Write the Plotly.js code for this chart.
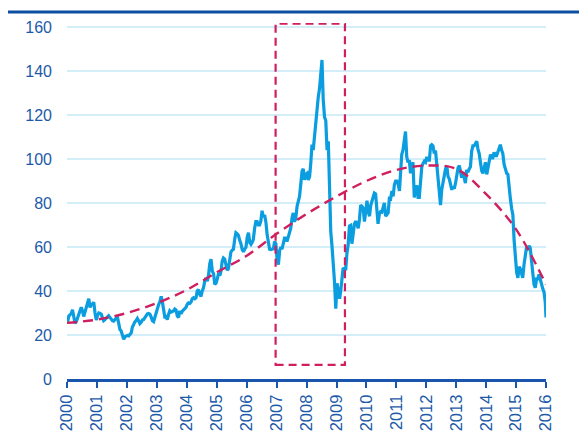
<!DOCTYPE html>
<html>
<head>
<meta charset="utf-8">
<script src="https://cdn.plot.ly/plotly-3.0.1.min.js"></script>
<style>html,body{margin:0;padding:0;background:#fff;}#chart{width:579px;height:445px;}</style>
</head>
<body>
<div id="chart"></div>
<script>
// Crude oil (WTI) price, two readings per month (1st and 2nd half), Jan 2000 - Dec 2015
var startYear = 2000;
var oilPrice = [
  26.0,28.6, 29.2,29.8, 31.5,28.5, 25.3,26.0, 27.8,30.0, 31.0,32.6, 31.0,28.4, 30.5,32.2, 33.8,36.5, 32.5,33.8, 34.2,34.8, 30.0,26.8, // 2000
  29.0,30.0, 29.8,29.4, 27.8,26.5, 27.0,27.8, 28.4,28.8, 28.0,27.0, 26.5,26.3, 27.2,27.6, 28.0,24.5, 22.5,21.8, 19.5,18.0, 19.2,19.5, // 2001
  19.8,19.6, 20.5,21.0, 23.5,25.3, 26.0,26.6, 27.5,26.5, 25.2,25.8, 26.8,27.0, 27.8,29.0, 29.6,29.8, 29.5,28.2, 26.5,26.1, 28.0,30.8, // 2002
  32.0,33.8, 35.2,37.5, 35.5,30.5, 28.2,28.4, 27.0,29.2, 31.0,30.4, 30.7,30.9, 31.8,31.4, 28.6,28.0, 31.0,29.6, 30.8,31.4, 31.6,32.6, // 2003
  34.0,34.6, 34.4,35.0, 36.5,36.9, 36.5,36.9, 40.0,40.6, 38.5,37.5, 40.0,41.4, 44.5,46.0, 44.5,47.3, 52.5,54.5, 49.0,48.0, 43.0,43.6, // 2004
  45.5,48.0, 47.0,49.2, 53.5,55.0, 54.5,51.5, 49.5,50.1, 55.0,57.8, 58.5,58.9, 63.5,66.5, 66.0,65.2, 63.0,61.5, 58.8,57.8, 59.0,59.8, // 2005
  64.5,66.5, 62.0,61.2, 62.0,63.4, 68.5,71.5, 71.5,70.0, 70.0,71.8, 76.5,73.5, 74.5,71.5, 65.5,62.0, 59.0,58.8, 59.0,59.2, 62.5,61.5, // 2006
  54.0,52.0, 58.5,60.0, 59.0,61.8, 64.0,64.0, 62.5,64.5, 66.5,68.5, 73.0,75.5, 71.5,73.0, 78.5,81.5, 83.0,88.5, 94.5,95.5, 90.5,93.0, // 2007
  93.5,90.5, 92.0,98.5, 106.5,104.0, 111.0,115.5, 123.5,128.0, 132.0,137.0, 145.0,127.0, 119.0,117.5, 104.0,108.0, 86.0,67.0, 60.0,53.5, 44.0,32.0, // 2008
  43.5,40.0, 36.5,40.5, 45.5,50.5, 50.0,49.5, 57.0,61.0, 69.5,69.8, 61.5,66.8, 70.5,71.8, 70.5,68.5, 72.5,79.0, 78.5,77.5, 71.5,77.5, // 2009
  81.0,76.0, 74.0,79.0, 80.5,81.9, 84.5,84.1, 77.0,70.5, 75.0,76.0, 75.8,77.5, 80.0,74.0, 75.0,75.5, 82.0,81.8, 85.5,83.0, 88.3,90.0, // 2010
  90.0,88.5, 85.5,95.0, 102.0,104.0, 107.5,112.5, 101.0,98.5, 99.5,93.5, 97.0,98.5, 82.5,86.5, 88.0,82.5, 82.5,90.5, 96.5,98.0, 99.0,98.5, // 2011
  101.0,99.5, 99.5,106.0, 106.5,106.0, 102.5,103.8, 97.0,91.5, 83.5,79.0, 86.0,89.5, 93.0,95.5, 97.0,92.0, 91.0,88.0, 86.0,87.5, 86.5,89.0, // 2012
  93.5,96.0, 97.0,93.5, 91.5,94.0, 91.5,89.0, 95.0,94.0, 95.5,96.5, 103.5,106.0, 106.0,107.0, 108.0,104.5, 102.5,98.5, 94.5,93.5, 97.0,98.5, // 2013
  93.0,96.5, 100.0,102.0, 100.5,100.5, 103.0,101.5, 101.5,103.5, 105.5,106.5, 104.0,102.5, 97.5,95.5, 93.5,93.0, 86.0,82.0, 77.5,74.5, 63.0,55.5, // 2014
  48.5,46.0, 51.0,50.0, 48.5,46.0, 52.0,57.0, 59.8,58.8, 60.5,59.5, 52.5,48.5, 43.0,41.5, 45.5,45.5, 47.5,45.0, 42.5,41.0, 39.5,35.0  // 2015
];
var lastDate = '2016-01-01';
var lastPrice = 28.0;

// Long-term trend (dashed curve), one reading per year
var trendYears  = [2000, 2001, 2002, 2003, 2004, 2005, 2006, 2007, 2008, 2009, 2010, 2011, 2012, 2013, 2014, 2015, 2016];
var trendValues = [25.5, 27.0, 30.0, 34.5, 40.5, 48.5, 56.0, 66.0, 75.0, 83.0, 90.0, 95.0, 97.0, 95.5, 84.0, 68.0, 43.0];

// Highlighted crisis window (dashed box)
var crisisDates = ['2006-12-20', '2009-04-14'];
var crisisPrices = [6.4, 161.5];

var yTicks = [0, 20, 40, 60, 80, 100, 120, 140, 160];

function pad(n){ return (n < 10 ? '0' : '') + n; }
var dates = [];
for (var i = 0; i < oilPrice.length; i++) {
  var yr = startYear + Math.floor(i / 24);
  var mo = Math.floor((i % 24) / 2) + 1;
  var dy = (i % 2 === 0) ? 8 : 23;
  dates.push(yr + '-' + pad(mo) + '-' + pad(dy));
}
var xs = dates.concat([lastDate]);
var ys = oilPrice.concat([lastPrice]);
var trendX = trendYears.map(function(y){ return y + '-01-01'; });

var blueText = '#1c5aa8';
var crimson = '#cf1f5e';

// pixel geometry of the plot area
var W = 579, H = 445, L = 67, R = 33, T = 23, B = 66;
var pw = W - L - R, ph = H - T - B;
function px(xp){ return (xp - L) / pw; }
function py(yp){ return (H - B - yp) / ph; }

var traces = [
  {
    x: xs, y: ys, type: 'scatter', mode: 'lines',
    line: {color: '#0a9de0', width: 3.2},
    hoverinfo: 'skip', showlegend: false
  },
  {
    x: trendX, y: trendValues, type: 'scatter', mode: 'lines',
    line: {color: crimson, width: 2.4, dash: '10px,6px', shape: 'spline', smoothing: 1.0},
    hoverinfo: 'skip', showlegend: false
  }
];

var layout = {
  width: W, height: H,
  margin: {l: L, r: R, t: T, b: B, pad: 0},
  paper_bgcolor: '#ffffff', plot_bgcolor: '#ffffff',
  font: {family: 'Liberation Sans, Arial, sans-serif', color: blueText, size: 16},
  xaxis: {
    type: 'date',
    range: ['2000-01-01', '2016-01-01'],
    tick0: '2000-01-01', dtick: 'M12', tickformat: '%Y',
    tickangle: -90,
    ticks: 'outside', ticklen: 6, tickwidth: 2, tickcolor: '#1a55ad',
    showline: true, linecolor: '#1a55ad', linewidth: 3,
    showgrid: false, zeroline: false,
    tickfont: {size: 16.5, color: blueText},
    fixedrange: true
  },
  yaxis: {
    range: [0, 161.8],
    tickvals: yTicks,
    showgrid: true, gridcolor: '#d3eef9', gridwidth: 1.5,
    zeroline: false, showline: false, ticks: '',
    ticklabelstandoff: 14,
    tickfont: {size: 16, color: blueText},
    fixedrange: true
  },
  shapes: [
    {
      type: 'rect', xref: 'x', yref: 'y',
      x0: crisisDates[0], x1: crisisDates[1], y0: crisisPrices[0], y1: crisisPrices[1],
      line: {color: crimson, width: 2.2, dash: '8px,5px'}, fillcolor: 'rgba(0,0,0,0)'
    },
    {
      type: 'line', xref: 'paper', yref: 'paper',
      x0: px(8), x1: px(579), y0: py(12), y1: py(12),
      line: {color: '#0b4fa3', width: 3}
    }
  ],
  annotations: [
    {
      xref: 'paper', yref: 'paper', x: px(8), y: py(-10.5),
      xanchor: 'left', yanchor: 'middle', showarrow: false,
      text: '<b>Crude oil price, WTI (in $ per barrel)</b>',
      font: {size: 17, color: '#1a3f7a'}
    }
  ]
};

Plotly.newPlot('chart', traces, layout, {displayModeBar: false, staticPlot: true});
</script>
</body>
</html>
